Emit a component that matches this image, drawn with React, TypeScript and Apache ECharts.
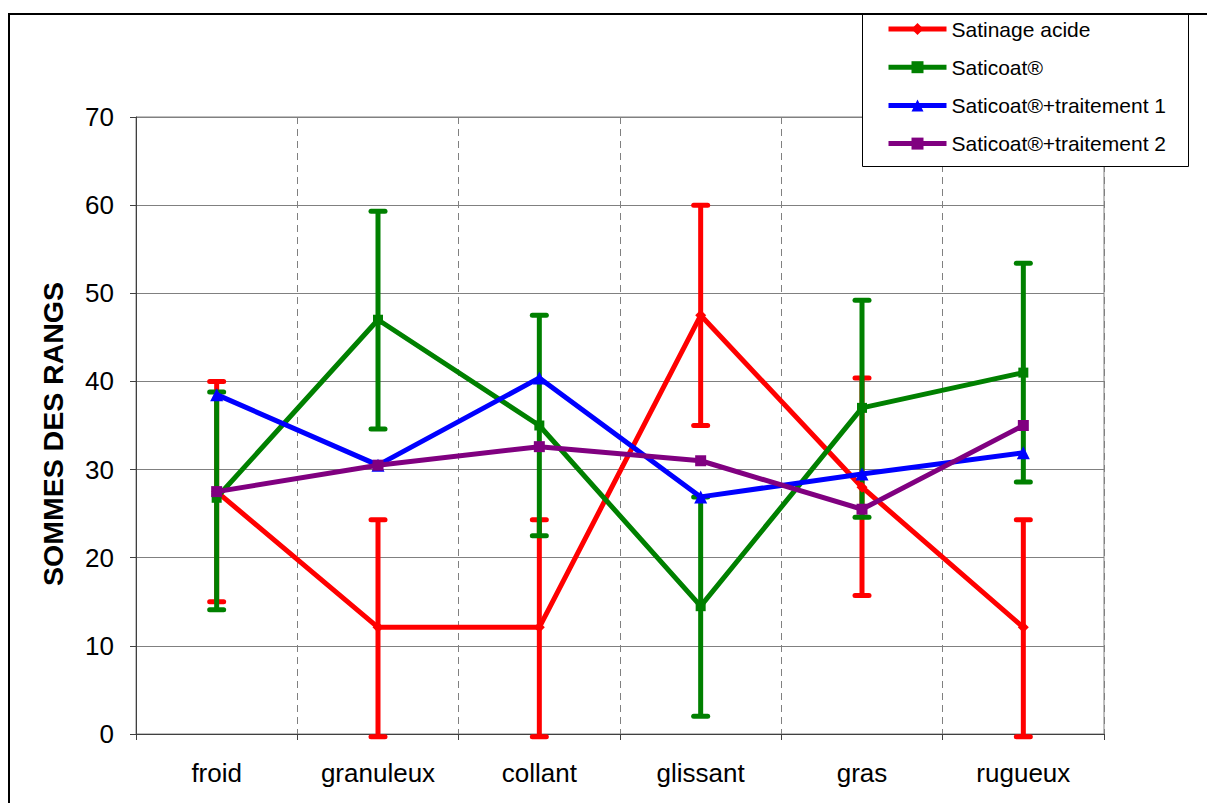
import React, { useEffect, useRef } from "react";
import * as echarts from "echarts";

const categories = ["froid", "granuleux", "collant", "glissant", "gras", "rugueux"];
const yTicks = [0, 10, 20, 30, 40, 50, 60, 70];

const satinage = [27.5, 12.1, 12.1, 47.5, 28.0, 12.1];
const satinageLow = [15.0, -0.3, -0.3, 35.0, 15.7, -0.3];
const satinageHigh = [40.0, 24.3, 24.3, 60.0, 40.4, 24.3];

const saticoat = [26.8, 47.0, 35.0, 14.5, 37.0, 41.0];
const saticoatLow = [14.1, 34.6, 22.5, 2.0, 24.6, 28.6];
const saticoatHigh = [38.8, 59.3, 47.5, 26.9, 49.2, 53.4];

const traitement1 = [38.5, 30.5, 40.4, 26.9, 29.5, 31.9];
const traitement2 = [27.5, 30.5, 32.6, 31.0, 25.5, 35.0];

const seriesNames = [
  "Satinage acide",
  "Saticoat®",
  "Saticoat®+traitement 1",
  "Saticoat®+traitement 2",
];

const FONT = "'Liberation Sans', Arial, sans-serif";

function errorSeries(name: string, color: string, low: number[], high: number[]) {
  return {
    type: "custom",
    name,
    data: categories.map((_, i) => [i, low[i], high[i]]),
    encode: { x: 0, y: [1, 2] },
    clip: false,
    renderItem: (params: any, api: any) => {
      const x = api.value(0);
      const pH = api.coord([x, api.value(2)]);
      const pL = api.coord([x, api.value(1)]);
      const w = 7;
      const st = { stroke: color, lineWidth: 5, lineCap: "round" };
      return {
        type: "group",
        children: [
          { type: "line", shape: { x1: pH[0], y1: pH[1], x2: pL[0], y2: pL[1] }, style: { stroke: color, lineWidth: 5 } },
          { type: "line", shape: { x1: pH[0] - w, y1: pH[1], x2: pH[0] + w, y2: pH[1] }, style: st },
          { type: "line", shape: { x1: pL[0] - w, y1: pL[1], x2: pL[0] + w, y2: pL[1] }, style: st },
        ],
      };
    },
  };
}

function lineSeries(name: string, color: string, data: number[], symbol: string, size: number) {
  return {
    type: "line",
    name,
    data,
    symbol,
    symbolSize: size,
    showAllSymbol: true,
    lineStyle: { color, width: 5 },
    itemStyle: { color },
    emphasis: { disabled: true },
  };
}

export default function App() {
  const ref = useRef<HTMLDivElement>(null);
  useEffect(() => {
    if (!ref.current) return;
    const chart = echarts.init(ref.current, undefined, { renderer: "svg" });
    chart.setOption({
      animation: false,
      backgroundColor: "#ffffff",
      grid: {
        left: 136,
        top: 117,
        right: 103,
        bottom: 69,
        show: true,
        borderColor: "#808080",
        borderWidth: 1,
      },
      xAxis: {
        type: "category",
        data: categories,
        boundaryGap: true,
        axisLine: { lineStyle: { color: "#404040", width: 1 } },
        axisTick: { show: true, length: 6, interval: 0, lineStyle: { color: "#404040" } },
        axisLabel: { interval: 0, fontSize: 26, color: "#000", fontFamily: FONT, margin: 26 },
        splitLine: { show: true, interval: 0, lineStyle: { color: "#808080", type: [7, 5], width: 1 } },
      },
      yAxis: {
        type: "value",
        min: yTicks[0],
        max: yTicks[yTicks.length - 1],
        interval: 10,
        axisLine: { show: true, lineStyle: { color: "#404040", width: 1 } },
        axisTick: { show: true, length: 6, lineStyle: { color: "#404040" } },
        axisLabel: { fontSize: 26, color: "#000", fontFamily: FONT, margin: 22 },
        splitLine: { show: true, lineStyle: { color: "#808080", width: 1 } },
      },
      legend: {
        data: seriesNames,
        orient: "vertical",
        left: 886,
        top: 18,
        padding: 0,
        itemWidth: 58,
        itemHeight: 15,
        itemGap: 16.2,
        lineStyle: { width: 5 },
        textStyle: { fontSize: 21, color: "#000", fontFamily: FONT, lineHeight: 22 },
        selectedMode: false,
        z: 10,
      },
      graphic: [
        {
          type: "rect",
          z: 8,
          shape: { x: 862.5, y: 14.5, width: 326, height: 152 },
          style: { fill: "#ffffff", stroke: "#000000", lineWidth: 1 },
        },
        {
          type: "rect",
          z: 9,
          shape: { x: 9, y: 14, width: 1300, height: 900 },
          style: { fill: "none", stroke: "#000000", lineWidth: 2 },
        },
        {
          type: "text",
          z: 9,
          x: 53,
          y: 434,
          rotation: Math.PI / 2,
          style: {
            text: "SOMMES DES RANGS",
            fontSize: 28.5,
            fontWeight: "bold",
            fontFamily: FONT,
            fill: "#000",
            align: "center",
            verticalAlign: "middle",
          },
        },
      ],
      series: [
        lineSeries(seriesNames[0], "#ff0000", satinage, "diamond", 11),
        errorSeries("err0", "#ff0000", satinageLow, satinageHigh),
        lineSeries(seriesNames[1], "#008000", saticoat, "rect", 10),
        errorSeries("err1", "#008000", saticoatLow, saticoatHigh),
        lineSeries(seriesNames[2], "#0000ff", traitement1, "triangle", 13),
        lineSeries(seriesNames[3], "#800080", traitement2, "rect", 11),
      ],
    });
    return () => chart.dispose();
  }, []);
  return (
    <div
      ref={ref}
      style={{ position: "absolute", left: 0, top: 0, width: 1207, height: 803 }}
    />
  );
}
